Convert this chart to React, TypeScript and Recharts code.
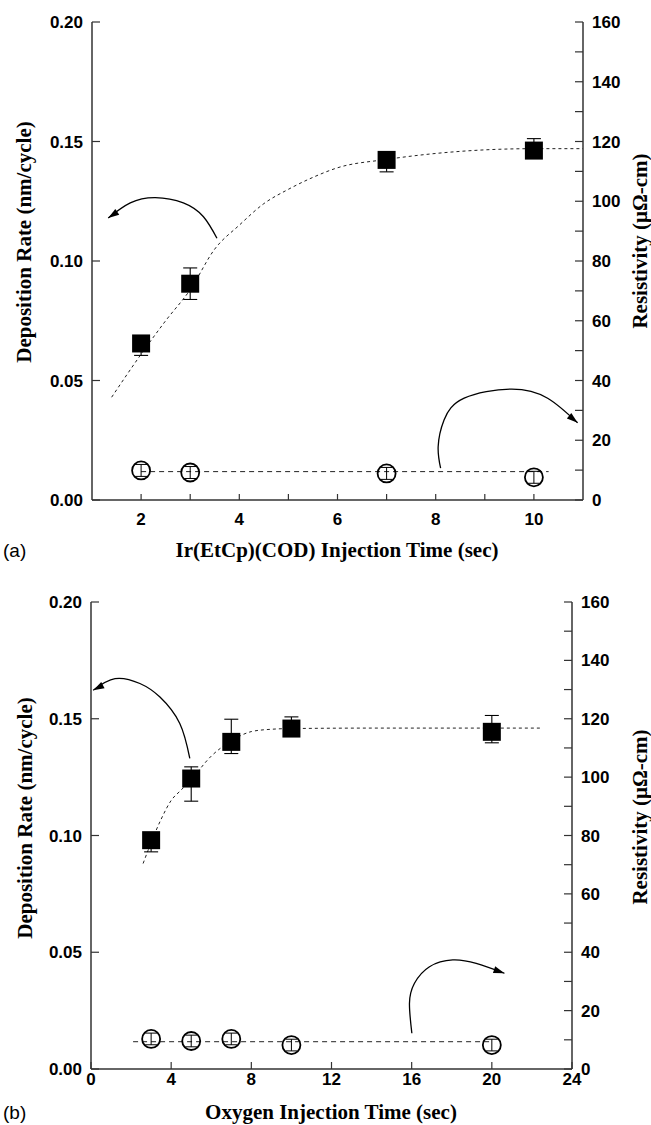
import { ComposedChart, Scatter, Line, XAxis, YAxis, ErrorBar, Label } from "recharts";

// panel (a): Ir(EtCp)(COD) injection time
const timeA = [2, 3, 7, 10];
const rateA = [0.0655, 0.0905, 0.1423, 0.1462];
const rateErrA = [[0.005, 0.002], [0.0066, 0.0066], [0.005, 0.002], [0.002, 0.005]];
const resA = [9.9, 9.2, 8.9, 7.6];
const resErrA = [2, 2, 2, 2];
const fitTimeA = [1.4, 2, 2.5, 3, 3.5, 4, 4.5, 5, 5.5, 6, 7, 8, 9, 10, 11];
const fitRateA = [0.043, 0.061, 0.075, 0.088, 0.105, 0.115, 0.124, 0.13, 0.135, 0.139, 0.1425, 0.145, 0.1465, 0.147, 0.147];
const resLineTimeA = [2, 10.3];
const resLineA = [9.5, 9.5];
const arrowLeftTimeA = [3.545, 3.27, 2.86, 2.29, 1.78, 1.33];
const arrowLeftRateA = [0.1095, 0.1185, 0.1243, 0.1265, 0.1243, 0.118];
const arrowRightTimeA = [8.1, 8.05, 8.17, 8.58, 9.53, 10.28, 10.89];
const arrowRightRateA = [0.0133, 0.0223, 0.0335, 0.0426, 0.0464, 0.0426, 0.0323];

// panel (b): oxygen injection time
const timeB = [3, 5, 7, 10, 20];
const rateB = [0.098, 0.1244, 0.1401, 0.1458, 0.1444];
const rateErrB = [[0.005, 0.002], [0.0097, 0.005], [0.005, 0.0097], [0.002, 0.005], [0.0047, 0.007]];
const resB = [10.3, 9.6, 10.3, 8.2, 8.2];
const resErrB = [2, 2, 2, 2, 2];
const fitTimeB = [2.6, 3, 3.5, 4, 4.5, 5, 6, 7, 8, 9, 10, 14, 18, 22.4];
const fitRateB = [0.088, 0.097, 0.107, 0.115, 0.1195, 0.124, 0.134, 0.1405, 0.1445, 0.1455, 0.1458, 0.146, 0.146, 0.146];
const resLineTimeB = [2.1, 20];
const resLineB = [9.35, 9.35];
const arrowLeftTimeB = [4.93, 4.43, 3.44, 2.44, 1.2, 0.11];
const arrowLeftRateB = [0.133, 0.148, 0.1593, 0.1651, 0.1672, 0.1622];
const arrowRightTimeB = [16.01, 15.89, 16.14, 16.89, 18.05, 19.22, 20.63];
const arrowRightRateB = [0.0153, 0.0281, 0.0367, 0.0438, 0.0467, 0.0452, 0.041];

const rateTicks = [0, 0.05, 0.1, 0.15, 0.2];
const resTicks = [0, 10, 20, 30, 40, 50, 60, 70, 80, 90, 100, 110, 120, 130, 140, 150, 160];
const xTicksA = [2, 3, 4, 5, 6, 7, 8, 9, 10];
const xMajorA = [2, 4, 6, 8, 10];
const xTicksB = [0, 4, 8, 12, 16, 20, 24];

const pts = (xs: number[], ys: number[], errs?: any[]) =>
  xs.map((x, i) => ({ x, y: ys[i], err: errs ? errs[i] : 0 }));

const AXIS = "#333";
const tickFont = { fontFamily: "Liberation Sans, Arial, sans-serif", fontWeight: 700, fontSize: 17, fill: "#000" };
const titleFont = { fontFamily: "Liberation Serif, Times New Roman, serif", fontWeight: 700, fontSize: 21, fill: "#000" };

const Square = (p: any) => <rect x={p.cx - 9} y={p.cy - 9} width={18} height={18} fill="#000" />;
const Ring = (p: any) => <circle cx={p.cx} cy={p.cy} r={9} fill="none" stroke="#000" strokeWidth={1.8} />;

const ArrowHead = (p: any) => {
  const { cx, cy, index, points } = p;
  if (!points || index !== points.length - 1) return <g key={`d${index}`} />;
  const prev = points[index - 1];
  const a = Math.atan2(cy - prev.y, cx - prev.x);
  const L = 11;
  const W = 3.5;
  const bx = cx - L * Math.cos(a);
  const by = cy - L * Math.sin(a);
  const nx = -Math.sin(a) * W;
  const ny = Math.cos(a) * W;
  return (
    <polygon
      key={`d${index}`}
      points={`${cx},${cy} ${bx + nx},${by + ny} ${bx - nx},${by - ny}`}
      fill="#000"
    />
  );
};

const rotTitle = (text: string, bx: number, cy: number) => () => (
  <text x={bx} y={cy} transform={`rotate(-90 ${bx} ${cy})`} textAnchor="middle" {...titleFont}>
    {text}
  </text>
);

const xTitle = (text: string, tag: string, cx: number, base: number) => () => (
  <g>
    <text x={cx} y={base} textAnchor="middle" {...titleFont}>{text}</text>
    <text x={3} y={base} fontFamily="Liberation Sans, Arial, sans-serif" fontSize={19} fill="#000">{tag}</text>
  </g>
);

type PanelProps = {
  height: number;
  top: number;
  left: number;
  right: number;
  xHeight: number;
  xDomain: [number, number];
  xTicks: number[];
  xMajor: number[];
  xTickMargin: number;
  xTickSize: number;
  squares: any[];
  rings: any[];
  fit: any[];
  resLine: any[];
  arrows: any[][];
  xTitleEl: () => any;
  leftTitle: () => any;
  rightTitle: () => any;
};

const Panel = (p: PanelProps) => (
  <ComposedChart width={651} height={p.height} margin={{ top: p.top, right: 0, left: 0, bottom: 0 }}>
    <XAxis
      xAxisId="b"
      dataKey="x"
      type="number"
      domain={p.xDomain}
      ticks={p.xTicks}
      allowDataOverflow
      height={p.xHeight}
      tickSize={-p.xTickSize}
      tickMargin={p.xTickMargin}
      tickFormatter={(v: number) => (p.xMajor.includes(v) ? String(v) : "")}
      tick={tickFont}
      stroke={AXIS}
      strokeWidth={1.5}
      tickLine={{ stroke: AXIS, strokeWidth: 1.2 }}
    >
      <Label content={p.xTitleEl} />
    </XAxis>
    <XAxis xAxisId="t" orientation="top" dataKey="x" type="number" domain={p.xDomain} height={0} tick={false} tickLine={false} stroke={AXIS} strokeWidth={1.5} />
    <YAxis
      yAxisId="l"
      dataKey="y"
      type="number"
      domain={[0, 0.2]}
      ticks={rateTicks}
      width={p.left}
      tickSize={-8}
      tickMargin={17}
      tickFormatter={(v: number) => v.toFixed(2)}
      tick={tickFont}
      stroke={AXIS}
      strokeWidth={1.5}
      tickLine={{ stroke: AXIS, strokeWidth: 1.2 }}
    >
      <Label content={p.leftTitle} />
    </YAxis>
    <YAxis
      yAxisId="r"
      orientation="right"
      dataKey="y"
      type="number"
      domain={[0, 160]}
      ticks={resTicks}
      width={p.right}
      tickSize={-8}
      tickMargin={17}
      tickFormatter={(v: number) => (v % 20 === 0 ? String(v) : "")}
      tick={{ ...tickFont, textAnchor: "start" }}
      stroke={AXIS}
      strokeWidth={1.5}
      tickLine={{ stroke: AXIS, strokeWidth: 1.2 }}
    >
      <Label content={p.rightTitle} />
    </YAxis>

    <Line xAxisId="b" yAxisId="l" data={p.fit} dataKey="y" type="monotone" dot={false} stroke="#222" strokeWidth={1} strokeDasharray="3 3" isAnimationActive={false} />
    <Line xAxisId="b" yAxisId="r" data={p.resLine} dataKey="y" type="linear" dot={false} stroke="#222" strokeWidth={1} strokeDasharray="5 4" isAnimationActive={false} />
    {p.arrows.map((a, i) => (
      <Line key={`arrow${i}`} xAxisId="b" yAxisId="l" data={a} dataKey="y" type="natural" dot={ArrowHead} activeDot={false} stroke="#000" strokeWidth={1.3} isAnimationActive={false} />
    ))}

    <Scatter xAxisId="b" yAxisId="l" data={p.squares} dataKey="y" shape={Square} isAnimationActive={false}>
      <ErrorBar dataKey="err" direction="y" width={7} stroke="#000" strokeWidth={1.1} />
    </Scatter>
    <Scatter xAxisId="b" yAxisId="r" data={p.rings} dataKey="y" shape={Ring} isAnimationActive={false}>
      <ErrorBar dataKey="err" direction="y" width={6} stroke="#000" strokeWidth={1} />
    </Scatter>
  </ComposedChart>
);

export default function App() {
  return (
    <div style={{ position: "absolute", left: 0, top: 0, width: 651, height: 1125, background: "#fff" }}>
      <Panel
        height={565}
        top={22}
        left={92}
        right={68}
        xHeight={65}
        xDomain={[1, 11]}
        xTicks={xTicksA}
        xMajor={xMajorA}
        xTickMargin={19}
        xTickSize={6}
        squares={pts(timeA, rateA, rateErrA)}
        rings={pts(timeA, resA, resErrA)}
        fit={pts(fitTimeA, fitRateA)}
        resLine={pts(resLineTimeA, resLineA)}
        arrows={[pts(arrowLeftTimeA, arrowLeftRateA), pts(arrowRightTimeA, arrowRightRateA)]}
        xTitleEl={xTitle("Ir(EtCp)(COD) Injection Time (sec)", "(a)", 337, 557)}
        leftTitle={rotTitle("Deposition Rate (nm/cycle)", 31, 242)}
        rightTitle={rotTitle("Resistivity (\u03bc\u03a9-cm)", 647, 241)}
      />
      <Panel
        height={560}
        top={37}
        left={91}
        right={79}
        xHeight={56}
        xDomain={[0, 24]}
        xTicks={xTicksB}
        xMajor={xTicksB}
        xTickMargin={11}
        xTickSize={7}
        squares={pts(timeB, rateB, rateErrB)}
        rings={pts(timeB, resB, resErrB)}
        fit={pts(fitTimeB, fitRateB)}
        resLine={pts(resLineTimeB, resLineB)}
        arrows={[pts(arrowLeftTimeB, arrowLeftRateB), pts(arrowRightTimeB, arrowRightRateB)]}
        xTitleEl={xTitle("Oxygen Injection Time (sec)", "(b)", 331, 554)}
        leftTitle={rotTitle("Deposition Rate (nm/cycle)", 32, 253)}
        rightTitle={rotTitle("Resistivity (\u03bc\u03a9-cm)", 647, 252)}
      />
    </div>
  );
}
